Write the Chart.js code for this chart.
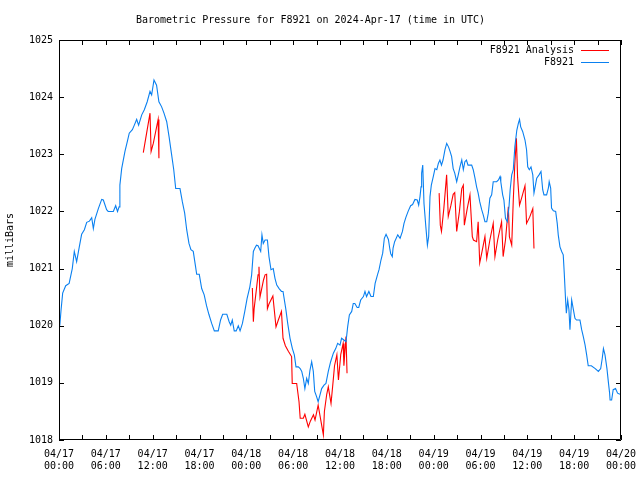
<!DOCTYPE html>
<html>
<head>
<meta charset="utf-8">
<script src="https://cdn.jsdelivr.net/npm/chart.js@4.4.1/dist/chart.umd.min.js"></script>
<style>
html,body{margin:0;padding:0;background:#fff;}
#c{display:block;}
</style>
</head>
<body>
<canvas id="c" width="640" height="480"></canvas>
<script>
// Hours since 2024-04-17 00:00 UTC
const stationHours = [0.1,0.26,0.47,0.86,1.3,1.7,1.96,2.26,2.6,2.9,3.25,3.55,3.9,4.19,4.4,4.6,5.04,5.47,5.68,6.1,6.3,6.96,7.26,7.5,7.7,7.8,8.03,8.45,8.75,9.0,9.4,9.65,9.95,10.2,10.6,10.93,11.3,11.66,11.87,12.17,12.5,12.8,13.15,13.45,13.8,14.1,14.4,14.7,14.95,15.5,15.8,16.1,16.36,16.65,16.9,17.2,17.5,17.64,17.97,18.28,18.6,18.9,19.2,19.56,19.9,20.4,20.7,20.97,21.5,21.8,22.0,22.2,22.45,22.7,22.97,23.2,23.5,23.8,24.1,24.45,24.68,24.9,25.1,25.3,25.5,25.84,26.0,26.17,26.4,26.7,26.9,27.16,27.45,27.67,27.9,28.2,28.5,28.7,29.05,29.3,29.6,29.9,30.15,30.36,30.66,30.9,31.1,31.3,31.5,31.73,31.94,32.15,32.37,32.58,32.76,33.0,33.2,33.44,33.65,33.95,34.2,34.5,34.8,35.15,35.45,35.7,36.0,36.2,36.5,36.77,36.98,37.2,37.5,37.7,37.9,38.2,38.4,38.65,39.0,39.2,39.4,39.7,39.97,40.27,40.5,40.8,41.0,41.25,41.47,41.68,41.9,42.2,42.4,42.5,42.7,42.8,43.0,43.4,43.7,44.0,44.2,44.45,44.75,45.05,45.3,45.6,45.9,46.08,46.25,46.38,46.46,46.6,46.76,47.0,47.2,47.36,47.53,47.7,47.95,48.17,48.4,48.6,48.8,49.0,49.2,49.45,49.67,49.9,50.1,50.3,50.5,50.7,50.95,51.15,51.37,51.6,51.8,52.0,52.2,52.4,52.87,53.07,53.3,53.5,53.7,53.9,54.15,54.35,54.57,54.8,55.0,55.2,55.43,55.63,56.07,56.3,56.5,56.6,56.84,57.0,57.2,57.43,57.65,57.8,58.0,58.2,58.4,58.65,58.85,59.0,59.15,59.4,59.7,59.9,60.05,60.25,60.47,60.7,60.85,61.0,61.2,61.5,61.75,61.97,62.13,62.47,62.7,62.8,62.99,63.1,63.33,63.63,63.83,63.96,64.18,64.4,64.6,64.73,64.9,65.0,65.17,65.33,65.46,65.68,65.9,66.1,66.3,66.74,66.96,67.17,67.4,67.6,67.8,68.2,68.7,69.1,69.4,69.6,69.75,69.95,70.2,70.4,70.54,70.6,70.8,71.0,71.3,71.56,71.86];
const stationPressure = [1020.0,1020.27,1020.57,1020.7,1020.74,1021.0,1021.3,1021.12,1021.38,1021.6,1021.68,1021.81,1021.83,1021.89,1021.7,1021.86,1022.05,1022.21,1022.2,1022.03,1022.0,1022.0,1022.1,1022.0,1022.08,1022.46,1022.75,1023.05,1023.22,1023.37,1023.43,1023.51,1023.61,1023.51,1023.69,1023.78,1023.92,1024.1,1024.04,1024.3,1024.21,1023.92,1023.83,1023.72,1023.57,1023.31,1023.02,1022.73,1022.4,1022.4,1022.17,1021.97,1021.68,1021.44,1021.33,1021.3,1021.03,1020.9,1020.9,1020.65,1020.54,1020.35,1020.2,1020.04,1019.91,1019.91,1020.1,1020.2,1020.2,1020.07,1020.01,1020.1,1019.91,1019.91,1020.0,1019.91,1020.04,1020.25,1020.48,1020.68,1020.89,1021.3,1021.36,1021.41,1021.4,1021.3,1021.59,1021.44,1021.5,1021.5,1021.21,1020.98,1021.0,1020.83,1020.71,1020.65,1020.6,1020.6,1020.3,1020.04,1019.78,1019.6,1019.49,1019.28,1019.28,1019.25,1019.2,1019.08,1018.9,1019.08,1018.99,1019.22,1019.37,1019.2,1018.85,1018.76,1018.67,1018.79,1018.9,1018.96,1018.99,1019.2,1019.37,1019.52,1019.6,1019.69,1019.66,1019.78,1019.75,1019.72,1019.98,1020.19,1020.25,1020.39,1020.39,1020.32,1020.32,1020.45,1020.51,1020.6,1020.51,1020.6,1020.51,1020.51,1020.74,1020.89,1020.98,1021.15,1021.27,1021.53,1021.6,1021.51,1021.33,1021.26,1021.21,1021.36,1021.47,1021.59,1021.53,1021.65,1021.79,1021.9,1022.01,1022.1,1022.12,1022.21,1022.2,1022.11,1022.26,1022.43,1022.67,1022.81,1022.14,1021.73,1021.41,1021.56,1022.26,1022.46,1022.61,1022.75,1022.73,1022.84,1022.9,1022.81,1022.9,1023.08,1023.19,1023.13,1023.05,1022.96,1022.75,1022.67,1022.52,1022.64,1022.78,1022.9,1022.73,1022.87,1022.9,1022.81,1022.81,1022.73,1022.58,1022.43,1022.32,1022.17,1022.03,1021.94,1021.82,1021.82,1021.97,1022.23,1022.29,1022.52,1022.52,1022.55,1022.61,1022.52,1022.29,1022.2,1021.88,1021.82,1022.08,1022.38,1022.64,1022.73,1023.13,1023.42,1023.54,1023.61,1023.48,1023.4,1023.25,1023.08,1022.78,1022.73,1022.78,1022.64,1022.32,1022.43,1022.58,1022.64,1022.7,1022.38,1022.29,1022.29,1022.41,1022.52,1022.41,1022.06,1022.01,1022.0,1021.79,1021.59,1021.38,1021.3,1021.24,1020.92,1020.45,1020.22,1020.45,1020.28,1019.93,1020.45,1020.28,1020.13,1020.1,1020.1,1019.93,1019.81,1019.66,1019.49,1019.3,1019.3,1019.25,1019.2,1019.25,1019.43,1019.6,1019.49,1019.25,1018.99,1018.82,1018.7,1018.7,1018.88,1018.9,1018.82,1018.8];

const analysisHours = [10.8,11.66,11.8,12.08,12.7,12.8, 18.0,
  24.77,24.9,25.0,25.3,25.5,25.62,25.75,25.9,26.2,26.4,26.6,26.7,26.9,27.4,27.8,28.1,28.5,28.7,29.0,29.4,29.8,29.88,30.45,30.75,30.9,31.3,31.5,31.94,32.2,32.6,32.8,33.2,33.87,34.0,34.3,34.5,34.85,35.1,35.3,35.6,35.8,36.1,36.4,36.5,36.77,36.9, 42.0,
  48.7,48.85,49.0,49.3,49.66,49.87,50.2,50.5,50.7,50.95,51.3,51.6,51.8,51.93,52.3,52.65,52.95,53.1,53.5,53.7,53.9,54.2,54.57,54.8,55.2,55.63,55.85,56.2,56.7,56.9,57.2,57.57,57.7,58.0,58.2,58.4,58.6,58.75,59.0,59.3,59.7,59.9,60.3,60.7,60.85];
const analysisPressure = [1023.03,1023.72,1023.05,1023.19,1023.61,1022.93, null,
  1020.66,1020.07,1020.3,1020.65,1020.89,1021.03,1020.5,1020.6,1020.8,1020.89,1020.9,1020.3,1020.38,1020.52,1019.98,1020.1,1020.25,1019.78,1019.65,1019.55,1019.46,1018.99,1018.99,1018.67,1018.38,1018.38,1018.45,1018.23,1018.33,1018.44,1018.35,1018.61,1018.09,1018.5,1018.8,1018.93,1018.64,1019.0,1019.3,1019.49,1019.05,1019.5,1019.69,1019.3,1019.81,1019.17, null,
  1022.32,1021.76,1021.65,1022.05,1022.64,1021.91,1022.1,1022.3,1022.33,1021.65,1022.0,1022.4,1022.46,1021.76,1022.05,1022.29,1021.56,1021.5,1021.47,1021.82,1021.1,1021.3,1021.56,1021.18,1021.5,1021.79,1021.21,1021.5,1021.82,1021.21,1021.5,1022.08,1021.56,1021.41,1022.2,1022.84,1023.28,1022.6,1022.11,1022.25,1022.45,1021.79,1021.9,1022.05,1021.35];

const startDay = 17;
const seriesNames = ['F8921 Analysis', 'F8921'];
const seriesColors = ['#ff0000', '#0a80f0'];
const titleText = 'Barometric Pressure for F8921 on 2024-Apr-17 (time in UTC)';
const yTitle = 'milliBars';

const pad2 = n => String(n).padStart(2, '0');
const toPoints = (xs, ys) => xs.map((x, i) => ({x: x, y: ys[i]}));

const FONT = {family: '"DejaVu Sans Mono", "Liberation Mono", monospace', size: 10, weight: 'normal'};

const framePlugin = {
  id: 'frameTicks',
  afterDraw(chart) {
    const ctx = chart.ctx, a = chart.chartArea;
    const xs = chart.scales.x, ys = chart.scales.y;
    ctx.save();
    ctx.strokeStyle = '#000';
    ctx.lineWidth = 1;
    ctx.beginPath();
    ctx.rect(Math.round(a.left) + 0.5, Math.round(a.top) + 0.5, Math.round(a.right - a.left) - 1, Math.round(a.bottom - a.top) - 1);
    const L = 5;
    xs.ticks.forEach(t => {
      const px = Math.round(xs.getPixelForValue(t.value)) + 0.5;
      ctx.moveTo(px, a.bottom); ctx.lineTo(px, a.bottom - L);
      ctx.moveTo(px, a.top); ctx.lineTo(px, a.top + L);
    });
    ys.ticks.forEach(t => {
      const py = Math.round(ys.getPixelForValue(t.value)) + 0.5;
      ctx.moveTo(a.left, py); ctx.lineTo(a.left + L, py);
      ctx.moveTo(a.right, py); ctx.lineTo(a.right - L, py);
    });
    ctx.stroke();
    // legend (inside, top right)
    ctx.font = FONT.size + 'px ' + FONT.family;
    ctx.textAlign = 'right';
    ctx.textBaseline = 'middle';
    chart.data.datasets.forEach((ds) => {
      const idx = seriesNames.indexOf(ds.label);
      const y = Math.round(a.top + 10 + idx * 12) + 0.5;
      ctx.fillStyle = '#000';
      ctx.fillText(ds.label, a.right - 47, y);
      ctx.strokeStyle = ds.borderColor;
      ctx.beginPath();
      ctx.moveTo(a.right - 40, y); ctx.lineTo(a.right - 12, y);
      ctx.stroke();
    });
    ctx.restore();
  }
};

Chart.defaults.color = '#000';
Chart.defaults.font = FONT;

new Chart(document.getElementById('c'), {
  type: 'line',
  data: {
    datasets: [
      {label: seriesNames[1], data: toPoints(stationHours, stationPressure), borderColor: seriesColors[1], borderWidth: 1.1, pointRadius: 0, tension: 0, fill: false},
      {label: seriesNames[0], data: toPoints(analysisHours, analysisPressure), borderColor: seriesColors[0], borderWidth: 1.1, pointRadius: 0, tension: 0, fill: false, spanGaps: false}
    ]
  },
  options: {
    responsive: false,
    devicePixelRatio: 1,
    animation: false,
    layout: {padding: {left: 0, right: 19, top: 0, bottom: 0}},
    plugins: {
      legend: {display: false},
      tooltip: {enabled: false},
      title: {display: true, text: titleText, font: FONT, color: '#000', padding: {top: 14, bottom: 14}}
    },
    scales: {
      x: {
        type: 'linear', min: 0, max: 72,
        grid: {display: false, drawTicks: false},
        border: {display: false},
        ticks: {
          stepSize: 3, autoSkip: false, maxRotation: 0, padding: 8, font: FONT, color: '#000',
          callback: v => {
            if (v % 6 !== 0) return '';
            const d = startDay + Math.floor(v / 24);
            return ['04/' + pad2(d), pad2(v % 24) + ':00'];
          }
        },
        afterFit: s => { s.height = 40; s.paddingLeft = 0; s.paddingRight = 0; }
      },
      y: {
        type: 'linear', min: 1018, max: 1025,
        grid: {display: false, drawTicks: false},
        border: {display: false},
        ticks: {stepSize: 1, padding: 6, font: FONT, color: '#000', callback: v => String(v)},
        title: {display: true, text: yTitle, font: FONT, color: '#000', padding: {top: 4, bottom: 0}},
        afterFit: s => { s.width = 59; s.paddingTop = 0; s.paddingBottom = 0; }
      }
    }
  },
  plugins: [framePlugin]
});
</script>
</body>
</html>
